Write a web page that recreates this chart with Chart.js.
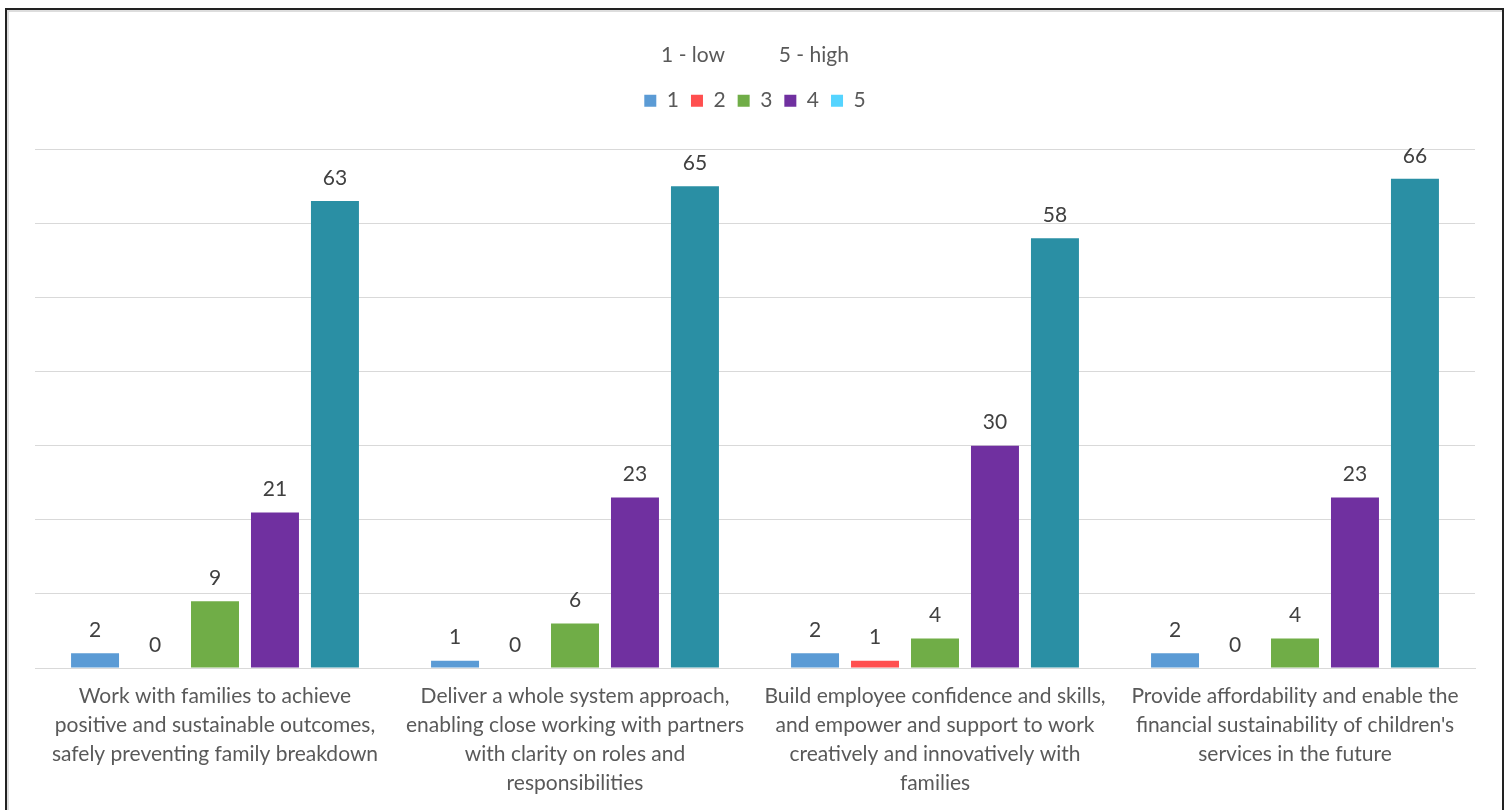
<!DOCTYPE html>
<html>
<head>
<meta charset="utf-8">
<script src="https://cdn.jsdelivr.net/npm/chart.js@4"></script>
<style>
  html, body { margin: 0; padding: 0; background: #fff; }
  #wrap { position: absolute; left: 0; top: 0; width: 1509px; height: 810px; }
  #frame {
    position: absolute; left: 5px; top: 8px; width: 1495px; height: 820px;
    border: 2px solid #222; box-shadow: inset 2px 2px 0 #ddd; pointer-events: none;
  }
</style>
</head>
<body>
<div id="wrap">
  <canvas id="chart" width="1509" height="810"></canvas>
  <div id="frame"></div>
</div>
<script>
var categories = [
  ["Work with families to achieve", "positive and sustainable outcomes,", "safely preventing family breakdown"],
  ["Deliver a whole system approach,", "enabling close working with partners", "with clarity on roles and", "responsibilities"],
  ["Build employee confidence and skills,", "and empower and support to work", "creatively and innovatively with", "families"],
  ["Provide affordability and enable the", "financial sustainability of children's", "services in the future"]
];
var seriesNames = ["1", "2", "3", "4", "5"];
var score1 = [2, 1, 2, 2];
var score2 = [0, 0, 1, 0];
var score3 = [9, 6, 4, 4];
var score4 = [21, 23, 30, 23];
var score5 = [63, 65, 58, 66];

var barColors = ["#5B9BD5", "#FF4F4F", "#70AD47", "#7030A0", "#2A8FA4"];
var keyColors = ["#5B9BD5", "#FF4F4F", "#70AD47", "#7030A0", "#55D4FF"];
var font = "Lato, 'Open Sans', sans-serif";

// value above every bar, zeros included
var valueLabels = {
  id: "valueLabels",
  afterDatasetsDraw: function (chart) {
    var ctx = chart.ctx;
    ctx.save();
    ctx.font = "21px " + font;
    ctx.fillStyle = "#404040";
    ctx.textAlign = "center";
    ctx.textBaseline = "middle";
    chart.data.datasets.forEach(function (ds, i) {
      chart.getDatasetMeta(i).data.forEach(function (bar, j) {
        ctx.fillText(ds.data[j], bar.x, bar.y - 23);
      });
    });
    ctx.restore();
  }
};

// extra room under the legend
var legendGap = {
  id: "legendGap",
  beforeInit: function (chart) {
    var fit = chart.legend.fit;
    chart.legend.fit = function () {
      fit.bind(chart.legend)();
      this.height += 28;
    };
  }
};

var sets = [score1, score2, score3, score4, score5].map(function (d, i) {
  return {
    label: seriesNames[i],
    data: d,
    backgroundColor: barColors[i],
    categoryPercentage: 0.833,
    barPercentage: 0.8
  };
});

var chart = new Chart("chart", {
  type: "bar",
  data: { labels: categories, datasets: sets },
  plugins: [valueLabels, legendGap],
  options: {
    responsive: false,
    animation: false,
    layout: { padding: { top: 45, left: 35, right: 34, bottom: 0 } },
    plugins: {
      tooltip: { enabled: false },
      legend: {
        position: "top",
        title: {
          display: true,
          text: "1 - low          5 - high",
          color: "#595959",
          font: { family: font, size: 21 },
          padding: { top: 0, bottom: 8 }
        },
        labels: {
          color: "#595959",
          font: { family: font, size: 21 },
          boxWidth: 12,
          boxHeight: 12,
          padding: 12,
          generateLabels: function (c) {
            return c.data.datasets.map(function (ds, i) {
              return {
                text: ds.label,
                fillStyle: keyColors[i],
                strokeStyle: keyColors[i],
                lineWidth: 0,
                datasetIndex: i
              };
            });
          }
        }
      }
    },
    scales: {
      x: {
        grid: { display: false, drawTicks: false },
        border: { color: "#D9D9D9" },
        ticks: {
          color: "#595959",
          font: { family: font, size: 21, lineHeight: 1.38 },
          maxRotation: 0,
          autoSkip: false,
          padding: 14
        },
        afterFit: function (scale) {
          scale.height -= 2;
        }
      },
      y: {
        min: 0,
        max: 70,
        ticks: { stepSize: 10, display: false },
        grid: { color: "#D9D9D9", drawTicks: false },
        border: { display: false }
      }
    }
  }
});
</script>
</body>
</html>
